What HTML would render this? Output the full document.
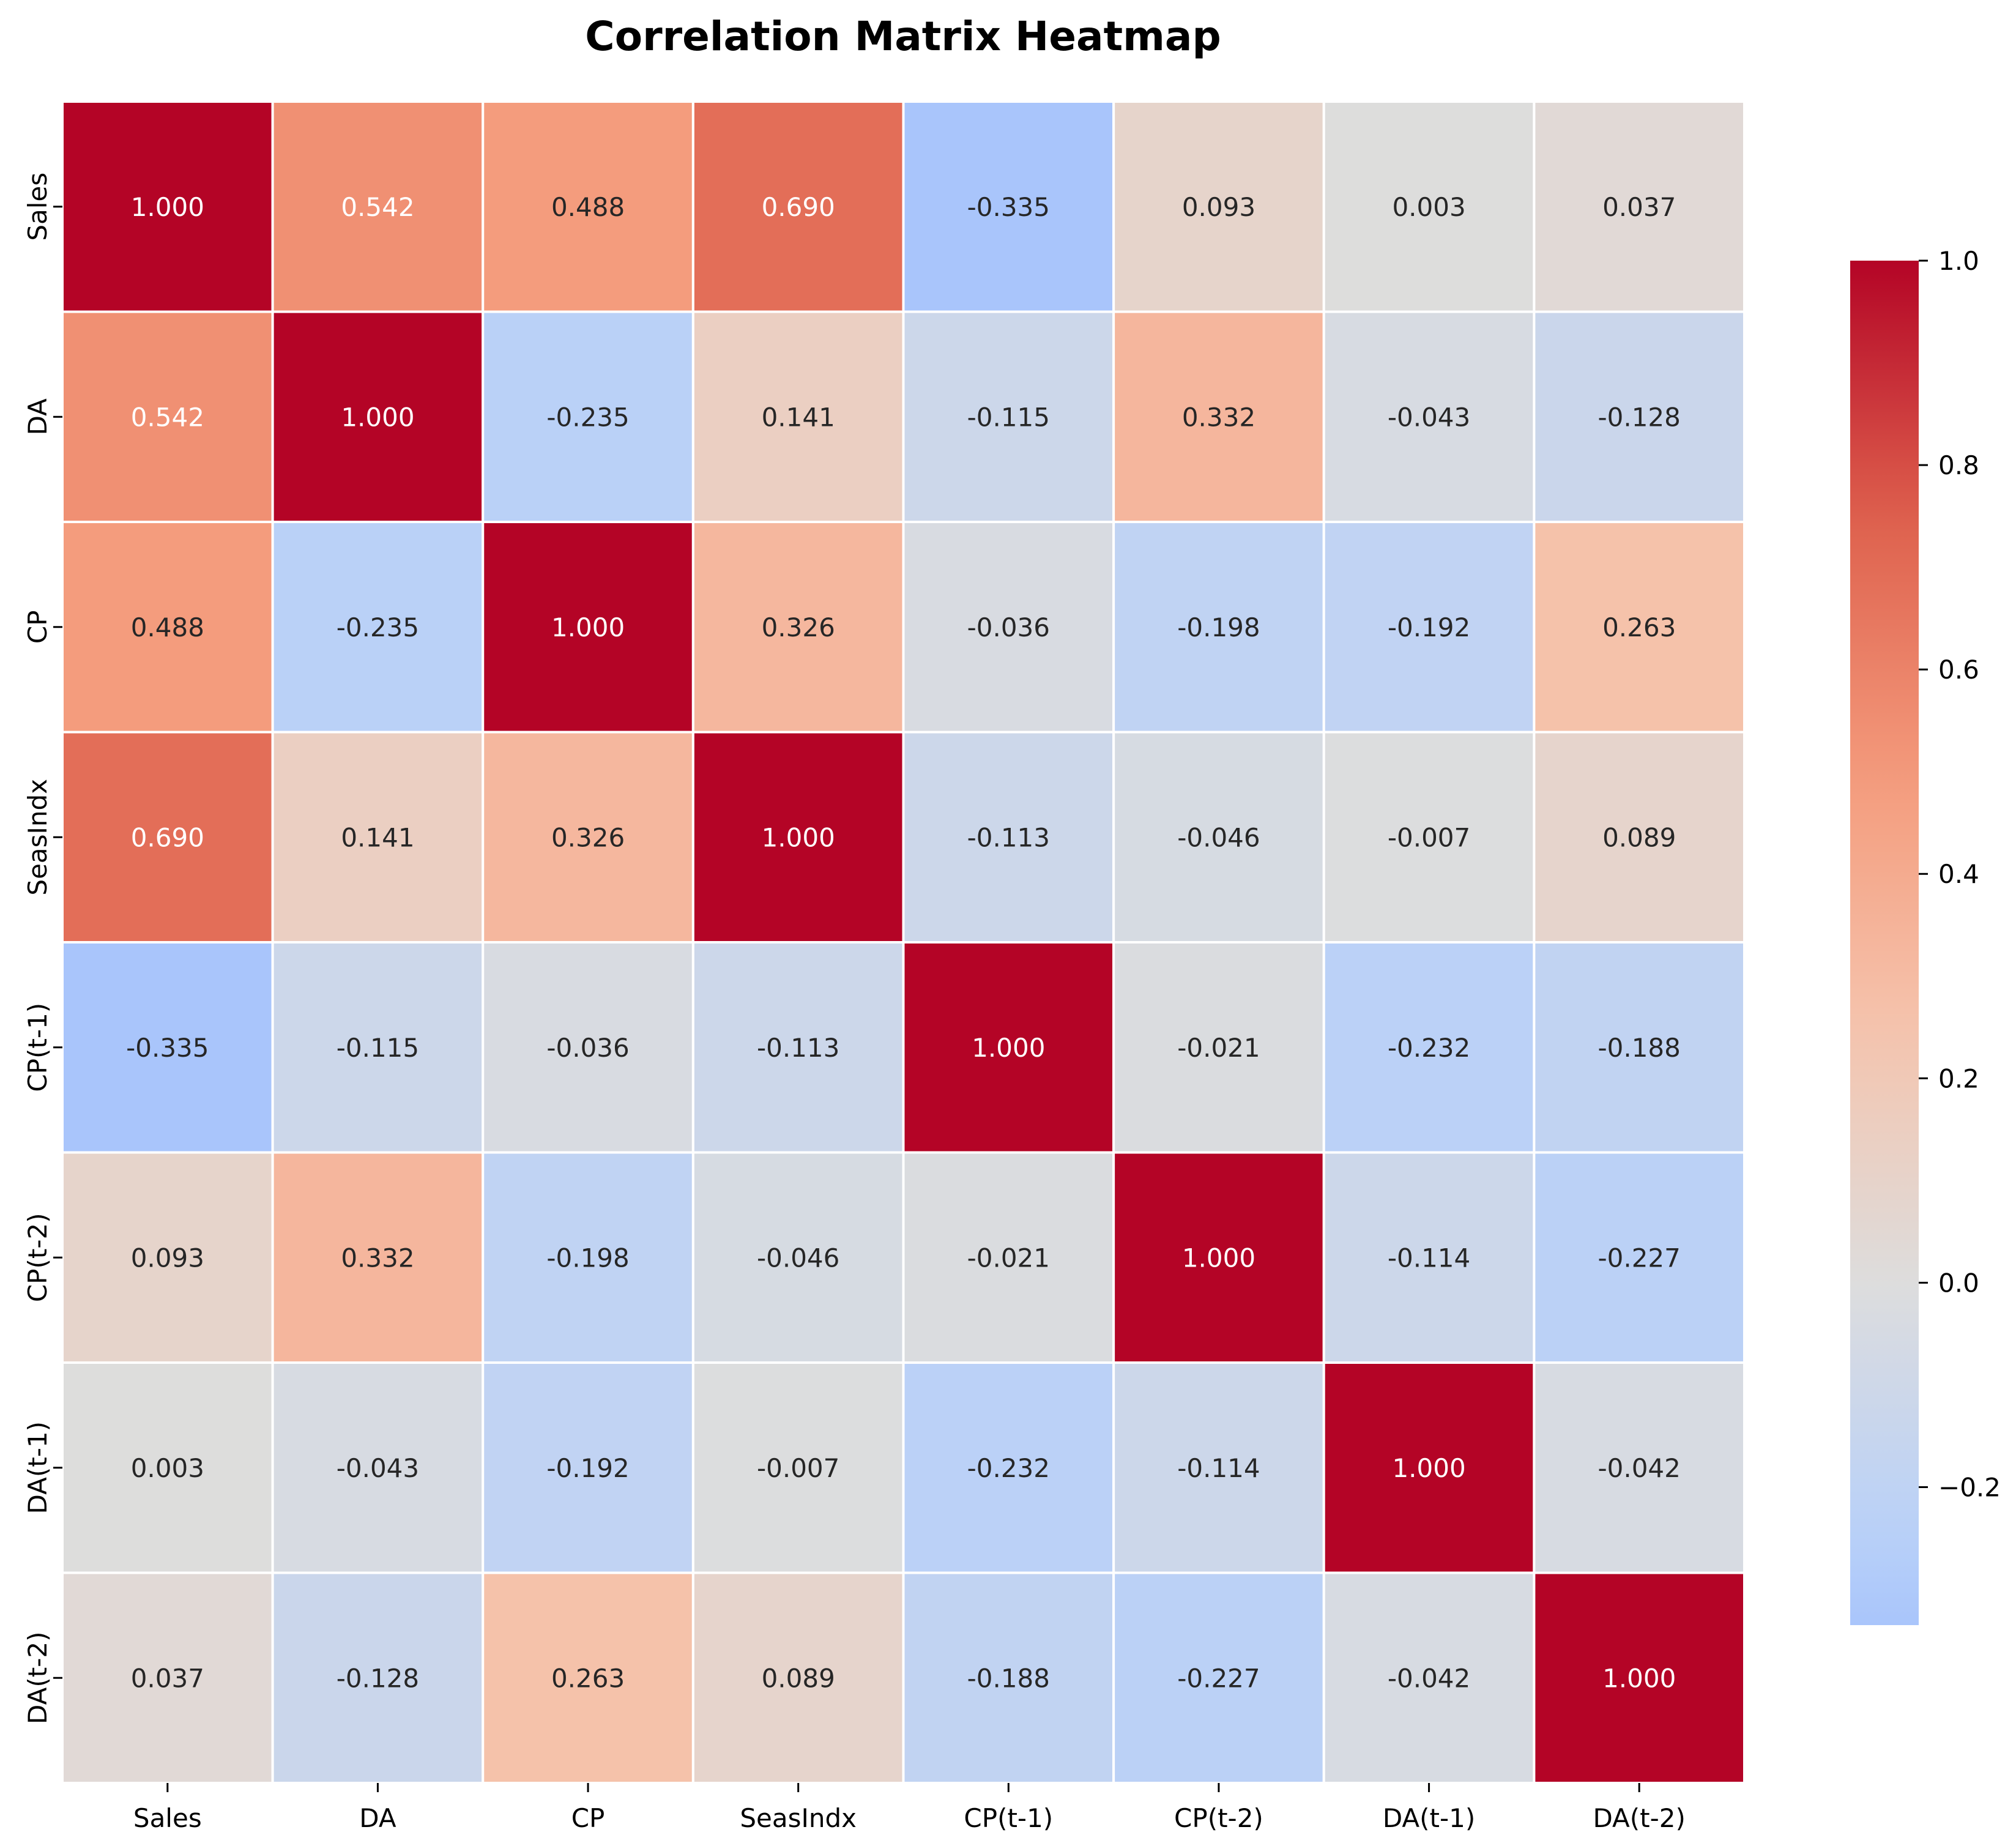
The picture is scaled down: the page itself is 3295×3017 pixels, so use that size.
<!DOCTYPE html>
<html><head><meta charset="utf-8"><style>
html,body{margin:0;padding:0;background:#fff;}
svg{display:block;font-family:"DejaVu Sans","Liberation Sans",sans-serif;}
</style></head><body>
<svg id="chart" width="3295" height="3017" viewBox="0 0 3295 3017" xmlns="http://www.w3.org/2000/svg">
<defs><linearGradient id="cbgrad" x1="0" y1="1" x2="0" y2="0"></linearGradient></defs>
<text x="1476" y="82" text-anchor="middle" font-size="66" font-weight="bold" fill="#000">Correlation Matrix Heatmap</text>
<g id="cells"></g>
<g id="axes"></g>
<g id="cbar"></g>
</svg>
<script>
const labels = ["Sales","DA","CP","SeasIndx","CP(t-1)","CP(t-2)","DA(t-1)","DA(t-2)"];
const row0 = [1.000,0.542,0.488,0.690,-0.335,0.093,0.003,0.037];
const row1 = [0.542,1.000,-0.235,0.141,-0.115,0.332,-0.043,-0.128];
const row2 = [0.488,-0.235,1.000,0.326,-0.036,-0.198,-0.192,0.263];
const row3 = [0.690,0.141,0.326,1.000,-0.113,-0.046,-0.007,0.089];
const row4 = [-0.335,-0.115,-0.036,-0.113,1.000,-0.021,-0.232,-0.188];
const row5 = [0.093,0.332,-0.198,-0.046,-0.021,1.000,-0.114,-0.227];
const row6 = [0.003,-0.043,-0.192,-0.007,-0.232,-0.114,1.000,-0.042];
const row7 = [0.037,-0.128,0.263,0.089,-0.188,-0.227,-0.042,1.000];
const matrix = [row0,row1,row2,row3,row4,row5,row6,row7];
const cbTicks = [-0.2,0.0,0.2,0.4,0.6,0.8,1.0];

const NS="http://www.w3.org/2000/svg";
const X0=102,Y0=166,X1=2851,Y1=2914;
const n=labels.length, cw=(X1-X0)/n, ch=(Y1-Y0)/n;
let vmin=Infinity, vmax=-Infinity;
matrix.forEach(r=>r.forEach(v=>{vmin=Math.min(vmin,v);vmax=Math.max(vmax,v);}));
const half=Math.max(Math.abs(vmin),Math.abs(vmax));
const stops=[[0,59,76,192],[0.125,98,130,234],[0.25,141,176,254],[0.375,184,208,249],[0.5,221,221,221],[0.625,245,196,173],[0.75,244,154,123],[0.875,222,96,77],[1,180,4,38]];
function coolwarm(t){t=Math.max(0,Math.min(1,t));for(let i=1;i<stops.length;i++){if(t<=stops[i][0]){const a=stops[i-1],b=stops[i],f=(t-a[0])/(b[0]-a[0]);return [1,2,3].map(k=>Math.round(a[k]+(b[k]-a[k])*f));}}return stops[8].slice(1);}
function colorOf(v){return coolwarm((v/half+1)/2);}
function lin(c){c/=255;return c<=0.03928?c/12.92:Math.pow((c+0.055)/1.055,2.4);}
function mk(tag,attrs,parent){const e=document.createElementNS(NS,tag);for(const k in attrs)e.setAttribute(k,attrs[k]);parent.appendChild(e);return e;}
const xPos=j=>X0+j*cw, yPos=i=>Y0+i*ch;
const cells=document.getElementById('cells');
matrix.forEach((r,i)=>r.forEach((v,j)=>{
  const c=colorOf(v);
  const rect=mk('rect',{x:xPos(j),y:yPos(i),width:cw,height:ch,fill:`rgb(${c})`,stroke:'#fff','stroke-width':4},cells);
  
  
  const lum=0.2126*lin(c[0])+0.7152*lin(c[1])+0.0722*lin(c[2]);
  const t=mk('text',{x:xPos(j)+cw/2,y:yPos(i)+ch/2+15,'text-anchor':'middle','font-size':42,fill:lum<=0.408?'#fff':'#262626'},cells);
  t.textContent=v.toFixed(3);
  
  
}));
const axes=document.getElementById('axes');
labels.forEach((l,i)=>{
  const cy=yPos(i)+ch/2, cx=xPos(i)+cw/2;
  mk('line',{x1:X0-15,y1:cy,x2:X0,y2:cy,stroke:'#000','stroke-width':3},axes);
  const yl=mk('text',{x:0,y:0,transform:`translate(76,${cy}) rotate(-90)`,'text-anchor':'middle','font-size':42,fill:'#000'},axes);
  yl.textContent=l;
  
  
  mk('line',{x1:cx,y1:Y1,x2:cx,y2:Y1+15,stroke:'#000','stroke-width':3},axes);
  const xl=mk('text',{x:cx,y:Y1+72,'text-anchor':'middle','font-size':42,fill:'#000'},axes);
  xl.textContent=l;
  
  
});
const CX0=3024,CX1=3136,CY0=426,CY1=2656;
const cbY=v=>CY1-(v-vmin)/(vmax-vmin)*(CY1-CY0);
const grad=document.getElementById('cbgrad');
for(let k=0;k<=20;k++){const v=vmin+(vmax-vmin)*k/20;const c=colorOf(v);mk('stop',{offset:(k/20),'stop-color':`rgb(${c})`},grad);}
const cbar=document.getElementById('cbar');
const cr=mk('rect',{x:CX0,y:CY0,width:CX1-CX0,height:CY1-CY0,fill:'url(#cbgrad)'},cbar);


cbTicks.forEach(v=>{
  const y=cbY(v);
  mk('line',{x1:CX1,y1:y,x2:CX1+15,y2:y,stroke:'#000','stroke-width':3},cbar);
  const t=mk('text',{x:CX1+32,y:y+15,'font-size':42,fill:'#000'},cbar);
  t.textContent=(v<0?'\u2212':'')+Math.abs(v).toFixed(1);
  
  
});
</script>
</body></html>
